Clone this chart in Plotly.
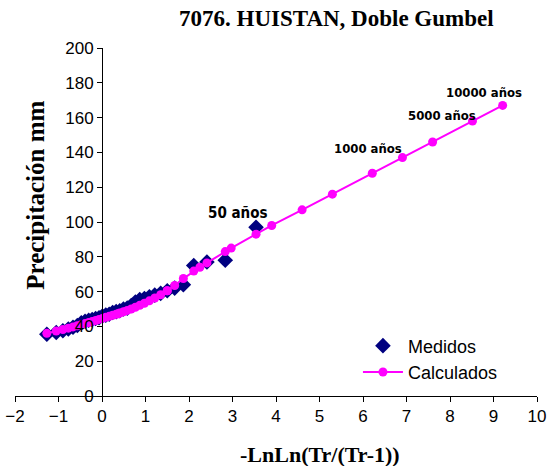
import plotly.graph_objects as go

# Measured annual maxima, ranked (Weibull position, n = 34)
x_med = [3.541, 2.833, 2.412, 2.109, 1.870, 1.671, 1.500, 1.349, 1.213, 1.089,
         0.975, 0.868, 0.767, 0.672, 0.580, 0.493, 0.408, 0.326, 0.245, 0.166,
         0.087, 0.010, -0.068, -0.146, -0.225, -0.306, -0.389, -0.476, -0.567,
         -0.666, -0.774, -0.899, -1.052, -1.268]
y_med = [97.0, 78.0, 77.0, 75.0, 64.0, 62.0, 60.5, 59.0, 58.0, 57.0,
         56.0, 55.5, 54.0, 52.0, 50.5, 50.0, 49.0, 48.5, 48.0, 47.0,
         46.5, 46.0, 45.0, 44.5, 44.0, 43.5, 43.0, 42.0, 40.5,
         39.5, 38.5, 37.5, 36.5, 35.5]

# Double Gumbel fit at the measured positions
y_fit_med = [93.0, 83.0, 76.5, 71.8, 67.5, 63.5, 60.5, 58.2, 56.3, 54.7,
             53.3, 52.1, 51.0, 50.0, 49.2, 48.4, 47.7, 47.0, 46.4, 45.8,
             45.2, 44.6, 44.0, 43.4, 42.8, 42.2, 41.6, 41.0, 40.4,
             39.7, 39.0, 38.2, 37.3, 36.0]

# Fit at design return periods
tr_design = [2, 5, 10, 20, 50, 100, 200, 500, 1000, 2000, 5000, 10000]
x_design = [0.367, 1.500, 2.250, 2.970, 3.902, 4.600, 5.296, 6.214, 6.907, 7.600, 8.517, 9.210]
y_design = [47.3, 60.5, 74.0, 85.0, 98.0, 107.0, 116.0, 128.0, 137.0, 146.0, 158.0, 167.0]

# labelled return periods: text offsets (px) and font size
labelled = {50: (-34, 12, 15), 1000: (-34, 9, 13), 5000: (-30, 6, 13), 10000: (-19, 13, 13)}

calc = sorted(zip(x_med + x_design, y_fit_med + y_design))
x_calc = [p[0] for p in calc]
y_calc = [p[1] for p in calc]

fig = go.Figure()

fig.add_trace(go.Scatter(
    x=x_med, y=y_med, mode='markers', name='Medidos',
    marker=dict(symbol='diamond', size=12, color='#000080')
))

fig.add_trace(go.Scatter(
    x=x_calc, y=y_calc, mode='lines+markers', name='Calculados',
    line=dict(color='#FF00FF', width=2),
    marker=dict(symbol='circle', size=9, color='#FF00FF')
))

narrow = 'DejaVu Sans Condensed, Liberation Sans Narrow, Arial Narrow, Liberation Sans'
annotations = []
for tr, (dx, dy, fs) in labelled.items():
    i = tr_design.index(tr)
    annotations.append(dict(
        x=x_design[i], y=y_design[i], xref='x', yref='y',
        text=f'<b>{tr} años</b>', showarrow=False, xshift=dx, yshift=dy,
        font=dict(family=narrow, size=fs, color='black'),
        xanchor='center', yanchor='middle'
    ))

serif = 'Liberation Serif, Times New Roman, serif'
annotations += [
    dict(text='<b>7076. HUISTAN, Doble Gumbel</b>', xref='paper', yref='paper',
         x=0.616, y=1.0, yshift=30, showarrow=False, xanchor='center', yanchor='middle',
         font=dict(family=serif, size=23, color='black')),
    dict(text='<b>-LnLn(Tr/(Tr-1))</b>', xref='paper', yref='paper',
         x=0.584, y=0, yshift=-58, showarrow=False, xanchor='center', yanchor='middle',
         font=dict(family=serif, size=22, color='black')),
    dict(text='<b>Precipitación mm</b>', xref='paper', yref='paper',
         x=0.040, y=0.578, showarrow=False, textangle=-90, xanchor='center', yanchor='middle',
         font=dict(family=serif, size=25, color='black')),
]

fig.update_layout(
    width=553, height=466,
    margin=dict(l=15, r=16, t=48, b=70),
    paper_bgcolor='white', plot_bgcolor='white',
    showlegend=True,
    legend=dict(x=0.657, y=0.197, xanchor='left', yanchor='top',
                bgcolor='rgba(0,0,0,0)', borderwidth=0,
                font=dict(family='Liberation Sans, Arial', size=18, color='black'),
                itemwidth=40, tracegroupgap=0),
    xaxis=dict(
        range=[-2, 10], tickmode='linear', tick0=-2, dtick=1,
        showline=True, linecolor='black', linewidth=1,
        ticks='outside', ticklen=5, tickcolor='black',
        showgrid=False, zeroline=False, automargin=False,
        ticklabeloverflow='allow',
        tickfont=dict(family='Liberation Sans, Arial', size=17, color='black')
    ),
    yaxis=dict(
        range=[0, 200], tickmode='linear', tick0=0, dtick=20,
        anchor='free', position=2 / 12,
        showline=True, linecolor='black', linewidth=1,
        ticks='outside', ticklen=5, tickcolor='black',
        showgrid=False, zeroline=False, automargin=False,
        tickfont=dict(family='Liberation Sans, Arial', size=17, color='black')
    ),
    annotations=annotations
)

# drop the browser's default 8px body margin so the figure fills the window
fig.write_html("out.html", config={'displayModeBar': False},
               post_script="document.body.style.margin='0';")
